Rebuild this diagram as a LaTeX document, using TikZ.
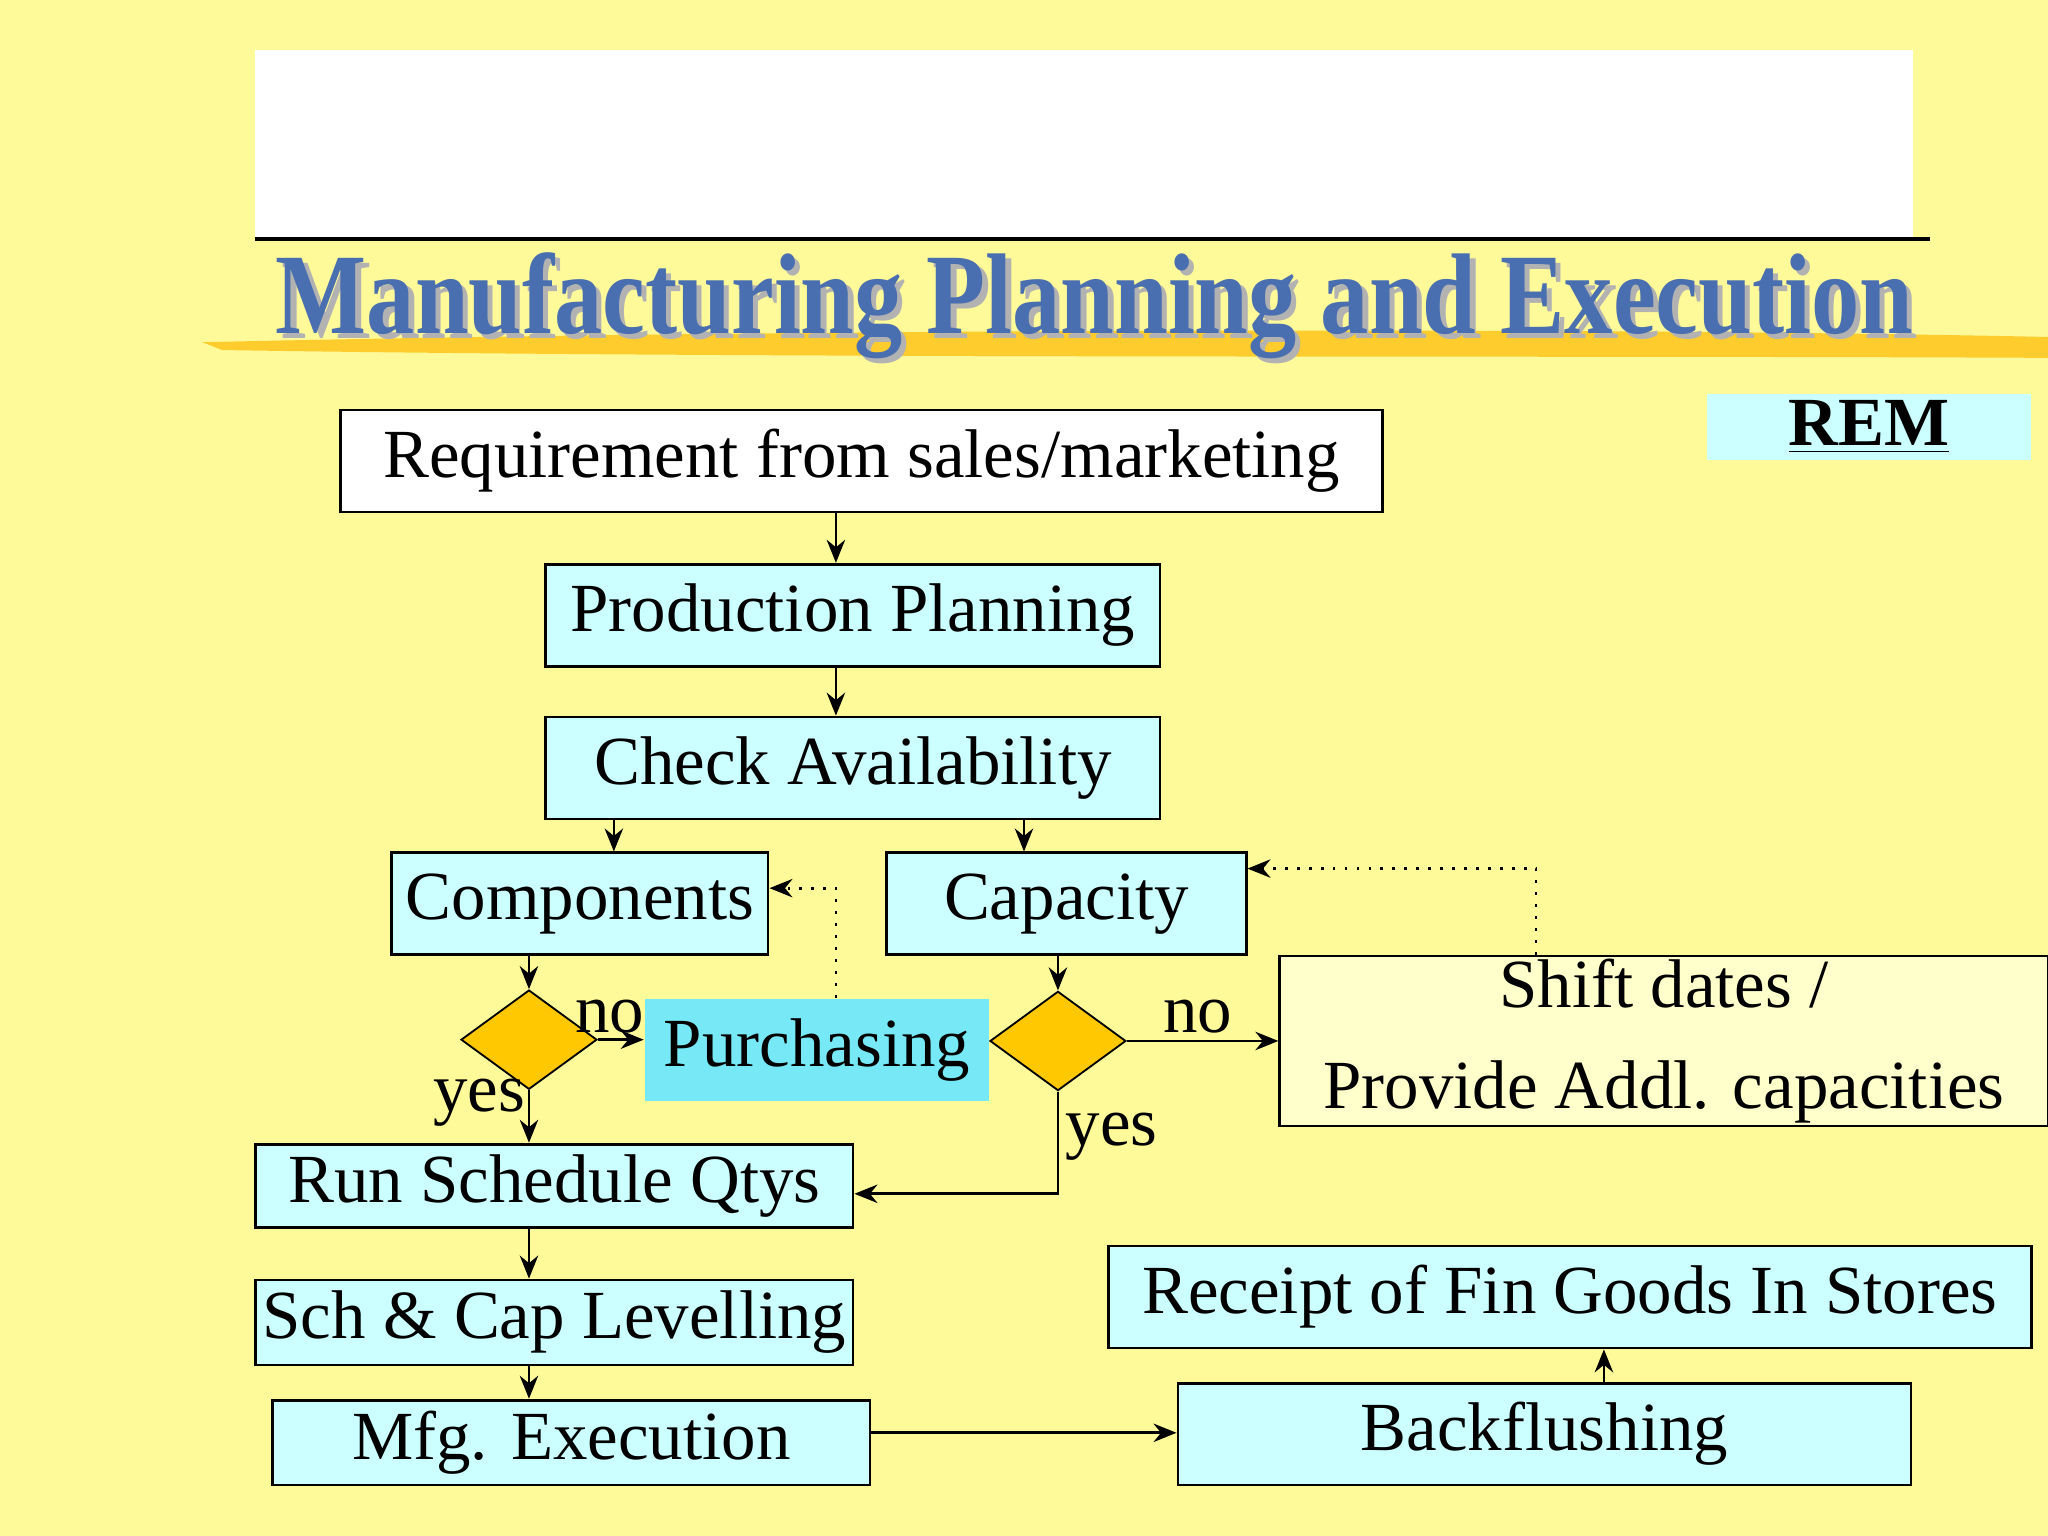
\documentclass[tikz,border=0pt]{standalone}
\usepackage{fontspec}
\setmainfont{Liberation Serif}
\usetikzlibrary{shapes.geometric,arrows.meta,shadows}
\definecolor{bg}{HTML}{FFFA99}
\definecolor{lc}{HTML}{CCFFFF}
\definecolor{pc}{HTML}{77E8F5}
\definecolor{dy}{HTML}{FFC800}
\definecolor{ly}{HTML}{FFFFCC}
\definecolor{tb}{HTML}{4A6FB0}
\begin{document}
\begin{tikzpicture}[x=0.01cm,y=-0.01cm,
  bx/.style={draw=black,line width=0.6pt,fill=lc,inner sep=0pt,font=\fontsize{15}{18}\selectfont},
  dm/.style={diamond,draw=black,fill=dy,minimum width=1.04cm,minimum height=0.76cm,inner sep=0pt,aspect=1.37},
  ar/.style={-{Stealth[length=5pt,width=4pt]},line width=0.6pt},
  lb/.style={font=\fontsize{15}{18}\selectfont,inner sep=0pt}]
\useasboundingbox (0,0) rectangle (1568,1176);
\fill[bg] (0,0) rectangle (1568,1176);
\fill[white] (195,38) rectangle (1465,183);
\draw[line width=0.8pt] (195,183) -- (1478,183);
\fill[dy!80!orange,opacity=0.7] (155,262) .. controls (600,252) and (1200,250) .. (1568,258) -- (1568,274) .. controls (1200,272) and (600,275) .. (170,268) -- cycle;
\node[font=\fontsize{25}{28}\selectfont\bfseries,text=gray!60,inner sep=0pt] at (842,238) {\scalebox{0.84}[1]{Manufacturing Planning and Execution}};
\node[font=\fontsize{25}{28}\selectfont\bfseries,text=tb,inner sep=0pt] (title) at (838,234) {\scalebox{0.84}[1]{Manufacturing Planning and Execution}};
\node[fill=lc,minimum width=2.48cm,minimum height=0.51cm,inner sep=0pt,font=\fontsize{15}{18}\selectfont\bfseries] (rem) at (1431,327) {\underline{REM}};
\node[bx,fill=white,minimum width=7.97cm,minimum height=0.78cm] (req) at (659.5,353) {Requirement from sales/marketing};
\node[bx,minimum width=4.70cm,minimum height=0.78cm] (pp) at (653,471) {Production Planning};
\node[bx,minimum width=4.70cm,minimum height=0.78cm] (ca) at (653,588) {Check Availability};
\node[bx,minimum width=2.88cm,minimum height=0.78cm] (comp) at (444,692) {Components};
\node[bx,minimum width=2.75cm,minimum height=0.78cm] (cap) at (816.5,692) {Capacity};
\node[dm] (d1) at (405,796) {};
\node[dm] (d2) at (810,797) {};
\node[bx,draw=none,fill=pc,minimum width=2.63cm,minimum height=0.78cm] (pur) at (625.5,804) {Purchasing};
\node[bx,fill=ly,minimum width=5.88cm,minimum height=1.30cm,align=center] (sh) at (1274,797) {Shift dates /\\[4pt]Provide Addl. capacities};
\node[bx,minimum width=4.57cm,minimum height=0.64cm] (run) at (424.5,908) {Run Schedule Qtys};
\node[bx,minimum width=4.57cm,minimum height=0.65cm] (sch) at (424.5,1012.5) {Sch \& Cap Levelling};
\node[bx,minimum width=4.57cm,minimum height=0.65cm] (mfg) at (437.5,1104.5) {Mfg. Execution};
\node[bx,minimum width=7.06cm,minimum height=0.78cm] (rec) at (1202,993) {Receipt of Fin Goods In Stores};
\node[bx,minimum width=5.61cm,minimum height=0.78cm] (bf) at (1182.5,1098) {Backflushing};
\draw[ar] (req.south -| 640,0) -- (pp.north -| 640,0);
\draw[ar] (pp.south -| 640,0) -- (ca.north -| 640,0);
\draw[ar] (ca.south -| 470,0) -- (comp.north -| 470,0);
\draw[ar] (ca.south -| 784,0) -- (cap.north -| 784,0);
\draw[ar] (comp.south -| 405,0) -- (d1.north);
\draw[ar] (d1.east) -- (pur.west |- d1.east);
\draw[ar] (d1.south) -- (run.north -| 405,0);
\draw[ar,dotted] (pur.north -| 640,0) -- (640,680) -- (comp.east |- 0,680);
\draw[ar] (cap.south -| 810,0) -- (d2.north);
\draw[ar] (d2.east) -- (sh.west |- d2.east);
\draw[ar] (d2.south) -- (810,914) -- (run.east |- 0,914);
\draw[ar,dotted] (sh.north -| 1176,0) -- (1176,665) -- (cap.east |- 0,665);
\draw[ar] (run.south -| 405,0) -- (sch.north -| 405,0);
\draw[ar] (sch.south -| 405,0) -- (mfg.north -| 405,0);
\draw[ar] (mfg.east |- 0,1097) -- (bf.west |- 0,1097);
\draw[ar] (bf.north -| 1228,0) -- (rec.south -| 1228,0);
\node[lb] at (467,778) {no};
\node[lb] at (367,844) {yes};
\node[lb] at (917,778) {no};
\node[lb] at (851,870) {yes};
\end{tikzpicture}
\end{document}
